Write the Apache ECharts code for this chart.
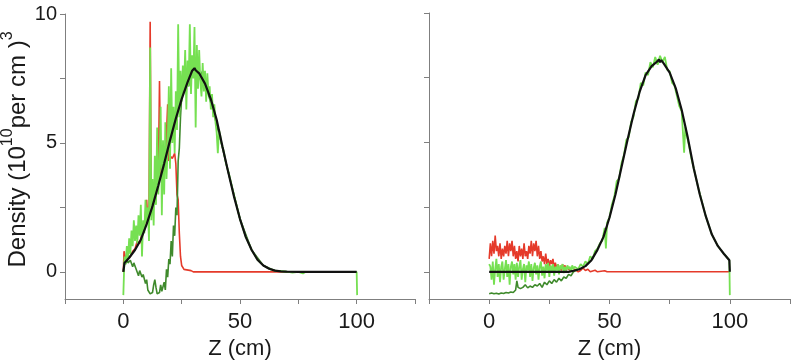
<!DOCTYPE html>
<html>
<head>
<meta charset="utf-8">
<script src="https://cdn.jsdelivr.net/npm/echarts@6/dist/echarts.min.js"></script>
<style>
  html, body { margin: 0; padding: 0; background: #fff; }
  #chart { width: 801px; height: 361px; }
</style>
</head>
<body>
<div id="chart"></div>
<script>
  // axis ticks
  const xTicks = [-25, 0, 25, 50, 75, 100, 125];
  const xLabels = [0, 50, 100];
  const yTicks = [0, 2.5, 5, 7.5, 10];
  const yLabels = [0, 5, 10];

  // ---- left panel ----
  const leftBlack = [[0,0],[0.5,0.35],[2.5,0.55],[5,0.85],[7.5,1.25],[10,1.85],[12.5,2.55],[15,3.35],
    [17.5,4.2],[20,5.1],[22.5,5.95],[25,6.7],[27.5,7.35],[29.5,7.8],[30,7.75],[30.5,7.9],[31,7.82],[31.5,7.88],
    [32.5,7.7],[35,7.3],[37.5,6.7],[40,5.9],[42.5,4.85],[45,3.85],[47.5,2.9],[50,2.05],[52.5,1.35],[55,0.85],
    [57.5,0.47],[60,0.25],[62.5,0.12],[65,0.05],[67.5,0.02],[70,0.01],[75,0],[100,0]];

  // z = 0, 0.5, 1 ... 42
  const leftGreenNoisy = [-0.9,0.6,0.3,1.0,0.5,1.3,0.7,1.6,1.0,2.0,1.2,1.8,1.1,2.2,1.4,2.6,0.6,2.0,1.5,2.8,
    1.9,2.5,1.2,8.7,2.0,3.6,1.8,4.5,2.6,5.6,3.0,4.2,6.4,2.2,5.1,3.0,5.8,3.6,4.8,7.2,
    4.0,7.9,5.0,6.4,4.6,7.0,5.5,9.6,6.0,7.8,6.6,8.0,7.0,8.6,6.3,8.2,7.2,9.6,6.9,8.4,
    7.5,9.5,5.6,8.8,7.1,8.6,7.4,6.8,8.1,7.0,7.8,6.6,7.7,6.9,7.2,6.3,6.9,6.0,6.5,5.8,
    5.4,4.6,5.5,5.3,5.0];
  const leftGreenTail = [[43,4.7],[44,4.2],[45,3.9],[47.5,2.95],[50,2.05],[52.5,1.35],[55,0.85],[57.5,0.47],
    [60,0.25],[62.5,0.12],[65,0.05],[70,0.01],[72.5,-0.03],[75,0],[77,-0.06],[78,0],[100,0],[100.2,-0.9]];

  const leftRed = [[0,0],[0.3,0.8],[1,0.5],[2,0.5],[3,0.6],[4,0.8],[5,0.9],[6,1.2],[7,1.1],[8,1.5],[9,1.7],
    [10,2.8],[10.5,1.9],[11,2.3],[11.5,9.7],[12,2.5],[13,3.0],[14,3.4],[15,3.6],[15.5,7.4],[16,3.8],[17,4.1],
    [18,4.2],[19,6.5],[19.5,4.3],[20,4.5],[21,4.4],[22,4.6],[22.5,4.2],[23,3.0],[23.5,2.8],[24,1.5],
    [24.5,0.6],[25,0.25],[26,0.1],[29,0.05],[30,0],[100,0]];

  const leftDarkGreen = [[0,0],[0.5,0.4],[1,0.3],[1.5,0.55],[2,0.35],[3,0.45],[4,0.2],[4.5,0.35],[5.5,0.1],
    [6.5,-0.15],[7,0.05],[8,-0.2],[8.5,-0.1],[9.5,-0.45],[10,-0.3],[10.5,-0.7],[11.5,-0.85],[12.5,-0.8],
    [13,-0.5],[13.5,-0.3],[14,-0.6],[14.5,-0.85],[15.5,-0.8],[16,-0.5],[16.5,-0.75],[17.5,-0.4],[18,-0.7],
    [18.5,0.1],[19,-0.2],[19.5,0.5],[20,0.3],[20.5,1.2],[21,0.6],[21.5,1.8],[22,1.4],[22.5,2.5],[23,2.2],
    [23.5,4.3],[24,4.8],[24.5,6.0],[25,6.8],[26,7.2],[27,7.6],[28,7.2],[30,7.9],[32,7.4],[34,7.8],[36,7.0],
    [38,6.4],[40,5.7],[42,5.0],[45,3.85],[50,2.05],[55,0.85],[60,0.25],[65,0.05],[70,0],[100,0]];

  // ---- right panel ----
  const rightBlack = [[0,0],[33,0],[35,0.04],[37.5,0.1],[40,0.22],[42.5,0.45],[45,0.85],[47.5,1.35],[50,2.1],
    [52.5,3.0],[55,4.05],[57.5,5.1],[60,6.1],[62.5,6.95],[65,7.6],[67.5,7.95],[69.5,8.1],[70,8.05],[70.5,8.2],
    [71,8.1],[71.5,8.18],[72.5,8.05],[75,7.7],[77.5,7.1],[80,6.25],[82.5,5.2],[85,4.0],[87.5,3.0],[90,2.15],
    [92.5,1.45],[95,1.0],[97.5,0.7],[99.8,0.45],[100,0]];

  // z = 0, 0.5, 1 ... 36
  const rightGreenNoisy = [0.3,0.2,-0.3,0.4,-0.5,0.1,0.5,-0.2,0.3,-0.4,0.2,0.4,-0.3,0.1,0.45,-0.2,0.3,-0.5,
    0.2,0.4,-0.1,0.3,-0.3,0.35,-0.2,0.2,0.45,-0.3,0.1,0.3,-0.4,0.25,0.05,0.4,-0.2,0.3,-0.35,0.15,0.35,-0.1,
    0.25,-0.3,0.2,0.4,-0.15,0.2,-0.25,0.3,0.05,0.35,-0.2,0.25,0.0,0.3,-0.15,0.2,0.05,0.3,-0.1,0.25,
    0.1,0.3,-0.05,0.2,0.05,0.25,0.1,0.2,0.0,0.25,0.1,0.2,0.15];
  const rightGreenTail = [[37,0.1],[38,0.3],[39,0.2],[40,0.4],[41,0.3],[42,0.6],[43,0.5],[44,0.8],[45,0.9],
    [46,1.1],[47,1.2],[48,1.7],[48.5,0.9],[49,1.9],[50,2.1],[51,2.6],[52,2.9],[53,3.5],[54,3.6],[55,4.2],
    [56,4.5],[57,5.1],[58,5.2],[59,5.8],[60,6.0],[61,6.6],[62,6.7],[63,7.3],[64,7.2],[65,7.7],[66,7.6],
    [67,8.1],[68,7.9],[69,8.3],[70,8.0],[71,8.35],[72,8.1],[73,8.3],[74,7.8],[75,7.75],[76,7.3],[77,7.2],
    [78,6.8],[79,6.4],[80,6.2],[81,4.6],[81.5,5.6],[82,5.3],[83,4.9],[84,4.4],[85,4.0],[86,3.6],[87,3.2],
    [88,2.85],[89,2.5],[90,2.15],[92.5,1.45],[95,1.0],[97.5,0.7],[99.8,0.45],[100,-0.9]];

  // z = 0, 0.5, 1 ... 36
  const rightRedNoisy = [0.5,1.1,0.6,1.2,0.7,1.4,0.8,1.0,0.6,1.1,0.5,0.9,0.6,1.0,0.7,1.2,0.6,1.1,0.8,1.2,
    0.6,1.0,0.5,0.8,0.4,1.0,0.6,0.9,0.5,1.1,0.6,0.8,0.5,1.0,0.7,1.2,0.6,1.1,0.8,1.2,
    0.6,1.0,0.5,0.8,0.4,0.6,0.3,0.7,0.3,0.5,0.2,0.45,0.3,0.5,0.15,0.35,0.1,0.3,0.05,0.15,
    0.05,0.3,0.1,0.25,0.05,0.2,0.1,0.15,0.05,0.12,0.0,0.1,0.03];
  const rightRedTail = [[37,0.0],[38,0.05],[39,0.15],[40,0.05],[41,0.1],[42,0.0],[44,0.06],[45,0],[48,0.04],
    [49,0],[100,0]];

  const rightDarkGreen = [[0,-0.85],[1,-0.82],[2,-0.85],[3,-0.83],[4,-0.86],[5,-0.82],[6,-0.84],[7,-0.8],
    [8,-0.82],[9,-0.78],[10,-0.8],[11,-0.7],[11.5,-0.35],[12,-0.6],[13,-0.65],[14,-0.6],[15,-0.5],[16,-0.62],
    [17,-0.55],[18,-0.6],[19,-0.5],[20,-0.55],[21,-0.45],[22,-0.6],[23,-0.4],[24,-0.5],[25,-0.35],[26,-0.45],
    [27,-0.3],[28,-0.4],[29,-0.25],[30,-0.35],[31,-0.2],[32,-0.25],[33,-0.1],[34,-0.15],[35,0.0],[36,0.05],[37,0.1]];

  const stepped = (z0, dz, vals) => vals.map((v, i) => [z0 + i * dz, v]);

  const RED = '#e53a2a', GREEN = '#76e052', DARK = '#3f8a2c', BLACK = '#111111';
  const AXIS = '#7f7f7f';
  const FONT = 'Liberation Sans';

  const line = (data, color, width, idx) => ({
    type: 'line', data: data, xAxisIndex: idx, yAxisIndex: idx,
    showSymbol: false, symbol: 'none', silent: true,
    lineStyle: { color: color, width: width }
  });

  const xAxis = (idx) => ({
    type: 'value', gridIndex: idx, min: -25, max: 125,
    name: 'Z (cm)', nameLocation: 'middle', nameGap: 37,
    nameTextStyle: { fontSize: 22, color: '#1a1a1a', fontFamily: FONT },
    axisLine: { show: true, onZero: false, lineStyle: { color: AXIS } },
    axisTick: { show: true, length: 5, lineStyle: { color: AXIS }, customValues: xTicks },
    axisLabel: { fontSize: 22, color: '#1a1a1a', fontFamily: FONT, margin: 12, customValues: xLabels },
    splitLine: { show: false }
  });

  const yAxis = (idx, withLabels) => ({
    type: 'value', gridIndex: idx, min: -1.05, max: 10,
    axisLine: { show: true, onZero: false, lineStyle: { color: AXIS } },
    axisTick: { show: true, length: 5, lineStyle: { color: AXIS }, customValues: yTicks },
    axisLabel: { show: withLabels, fontSize: 20, color: '#1a1a1a', fontFamily: FONT, margin: 8, customValues: yLabels },
    splitLine: { show: false }
  });

  const leftY = yAxis(0, true);
  leftY.name = '{a|Density (10}{s|10}{a|per cm )}{s|3}';
  leftY.nameLocation = 'middle';
  leftY.nameRotate = 90;
  leftY.nameGap = 26;
  leftY.nameTextStyle = {
    color: '#1a1a1a', fontFamily: FONT, padding: [0, 0, 0, 14],
    rich: {
      a: { fontSize: 24, lineHeight: 25, padding: [8, 0, 0, 0], fontFamily: FONT, color: '#1a1a1a' },
      s: { fontSize: 16, lineHeight: 17, padding: [0, 0, 14, 0], fontFamily: FONT, color: '#1a1a1a' }
    }
  };

  const chart = echarts.init(document.getElementById('chart'));
  chart.setOption({
    animation: false,
    backgroundColor: '#fff',
    grid: [
      { left: 65, right: 386, top: 14, bottom: 62, outerBoundsMode: 'none' },
      { left: 429, right: 11, top: 13, bottom: 62, outerBoundsMode: 'none' }
    ],
    xAxis: [xAxis(0), xAxis(1)],
    yAxis: [leftY, yAxis(1, false)],
    series: [
      line(leftRed, RED, 1.6, 0),
      line(leftDarkGreen, DARK, 1.6, 0),
      line(stepped(0, 0.5, leftGreenNoisy).concat(leftGreenTail), GREEN, 1.8, 0),
      line(leftBlack, BLACK, 2.2, 0),
      line(stepped(0, 0.5, rightRedNoisy).concat(rightRedTail), RED, 1.6, 1),
      line(rightDarkGreen, DARK, 1.6, 1),
      line(stepped(0, 0.5, rightGreenNoisy).concat(rightGreenTail), GREEN, 1.8, 1),
      line(rightBlack, BLACK, 2.2, 1)
    ]
  });
</script>
</body>
</html>
